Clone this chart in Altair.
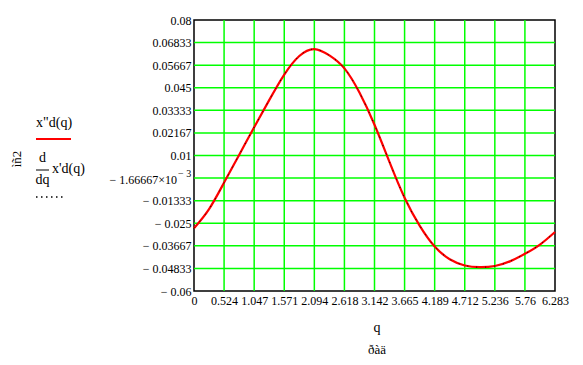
import altair as alt
import pandas as pd

# curve values
q_vals = [0, 0.2618, 0.5236, 0.7854, 1.0472, 1.309, 1.5708, 1.8326, 2.0944, 2.3562,
          2.618, 2.8798, 3.1416, 3.4034, 3.6652, 3.927, 4.1888, 4.4506, 4.7124, 4.9742,
          5.236, 5.4978, 5.7596, 6.0214, 6.2832]
xdd_vals = [-0.0276, -0.0177, -0.0040, 0.0103, 0.0246, 0.0386, 0.0518, 0.0614, 0.0650, 0.0617,
            0.0550, 0.0425, 0.0259, 0.0066, -0.0118, -0.0262, -0.0370, -0.0436, -0.0468, -0.0477,
            -0.0471, -0.0447, -0.0408, -0.0360, -0.0295]
dxd_vals = list(xdd_vals)

x_ticks = [0, 0.5236, 1.0472, 1.5708, 2.0944, 2.618, 3.1416, 3.6652, 4.1888, 4.7124, 5.236, 5.7596, 6.2832]
x_labels = ["0", "0.524", "1.047", "1.571", "2.094", "2.618", "3.142", "3.665", "4.189", "4.712",
            "5.236", "5.76", "6.283"]
y_ticks = [0.08, 0.0683333, 0.0566667, 0.045, 0.0333333, 0.0216667, 0.01, -0.0016667,
           -0.0133333, -0.025, -0.0366667, -0.0483333, -0.06]
y_labels = ["0.08", "0.06833", "0.05667", "0.045", "0.03333", "0.02167", "0.01", "",
            "\u2212 0.01333", "\u2212 0.025", "\u2212 0.03667", "\u2212 0.04833", "\u2212 0.06"]

W, H = 361, 271
FONT = "Times New Roman, Liberation Serif, serif"


def label_expr(ticks, labels):
    expr = "''"
    for v, lab in reversed(list(zip(ticks, labels))):
        expr = f"abs(datum.value - ({v})) < 1e-6 ? '{lab}' : ({expr})"
    return expr


xscale = alt.Scale(domain=[0, 6.2832], nice=False, zero=False)
yscale = alt.Scale(domain=[-0.06, 0.08], nice=False, zero=False)
xaxis = alt.Axis(values=x_ticks, labelExpr=label_expr(x_ticks, x_labels), title=None, grid=False,
                 domain=False, ticks=False, labelFont=FONT, labelFontSize=12, labelColor="black",
                 labelPadding=4, labelFlush=False, labelOverlap=False)
yaxis = alt.Axis(values=y_ticks, labelExpr=label_expr(y_ticks, y_labels), title=None, grid=False,
                 domain=False, ticks=False, labelFont=FONT, labelFontSize=12, labelColor="black",
                 labelPadding=3, labelFlush=False, labelOverlap=False, labelBaseline="middle")

X = alt.X("q:Q", scale=xscale, axis=xaxis)
Y = alt.Y("v:Q", scale=yscale, axis=yaxis)

curve = pd.DataFrame({"q": q_vals, "v": xdd_vals})
deriv = pd.DataFrame({"q": q_vals, "v": dxd_vals})
xgrid = pd.DataFrame({"q": x_ticks[1:-1]})
ygrid = pd.DataFrame({"v": y_ticks[1:-1]})

vgrid = alt.Chart(xgrid).mark_rule(color="#00ff00", strokeWidth=1.5).encode(x=X)
hgrid = alt.Chart(ygrid).mark_rule(color="#00ff00", strokeWidth=1.5).encode(y=Y)

red = alt.Chart(curve).mark_line(color="red", strokeWidth=2.2, interpolate="natural").encode(x=X, y=Y)
dots = alt.Chart(deriv).mark_line(color="black", strokeWidth=1, strokeDash=[1, 8],
                                  interpolate="natural").encode(x=X, y=Y)

# special y label with superscript
sp = pd.DataFrame({"v": [-0.0016667]})
sp_main = alt.Chart(sp).mark_text(text="\u2212 1.66667\u00d710", align="right", baseline="middle",
                                  font=FONT, fontSize=12, color="black", dy=1.5).encode(
    x=alt.value(-17), y=Y)
sp_sup = alt.Chart(sp).mark_text(text="\u2212 3", align="left", baseline="middle",
                                 font=FONT, fontSize=10, color="black", dy=-4.5).encode(
    x=alt.value(-16), y=Y)

# legend area & titles
txt_rot = alt.Chart(sp).mark_text(text="ìñ2", angle=270, font=FONT, fontSize=13, color="black",
                                  align="center", baseline="middle").encode(
    x=alt.value(-177), y=alt.value(139))
txt_l1 = alt.Chart(sp).mark_text(text='x"d(q)', font=FONT, fontSize=14, color="black",
                                 align="left", baseline="middle").encode(
    x=alt.value(-158), y=alt.value(103))
leg_red = alt.Chart(sp).mark_rule(color="red", strokeWidth=2).encode(
    x=alt.value(-158), x2=alt.value(-123), y=alt.value(119))
txt_num = alt.Chart(sp).mark_text(text="d", font=FONT, fontSize=14, color="black",
                                  align="center", baseline="middle").encode(
    x=alt.value(-151.5), y=alt.value(138))
frac = alt.Chart(sp).mark_rule(color="black", strokeWidth=1).encode(
    x=alt.value(-158), x2=alt.value(-145), y=alt.value(150))
txt_den = alt.Chart(sp).mark_text(text="dq", font=FONT, fontSize=14, color="black",
                                  align="center", baseline="middle").encode(
    x=alt.value(-151.5), y=alt.value(160))
txt_l2 = alt.Chart(sp).mark_text(text="x'd(q)", font=FONT, fontSize=14, color="black",
                                 align="left", baseline="middle").encode(
    x=alt.value(-142), y=alt.value(149))
leg_dot = alt.Chart(sp).mark_rule(color="black", strokeWidth=1.5, strokeDash=[1.5, 3.5]).encode(
    x=alt.value(-158), x2=alt.value(-131), y=alt.value(177))
txt_q = alt.Chart(sp).mark_text(text="q", font=FONT, fontSize=14, color="black",
                                align="center", baseline="middle").encode(
    x=alt.value(183), y=alt.value(308))
txt_u = alt.Chart(sp).mark_text(text="ðàä", font=FONT, fontSize=13, color="black",
                                align="center", baseline="middle").encode(
    x=alt.value(183), y=alt.value(330))

chart = alt.layer(
    vgrid, hgrid, red, dots, sp_main, sp_sup, txt_rot, txt_l1, leg_red, txt_num, frac,
    txt_den, txt_l2, leg_dot, txt_q, txt_u
).properties(
    width=W, height=H,
    autosize=alt.AutoSizeParams(type="none"),
    padding={"left": 186, "top": 12, "right": 20, "bottom": 66},
    background="white",
).configure_view(stroke="black", strokeWidth=1.5)

chart.save("out.html", embed_options={"renderer": "svg", "actions": False})
